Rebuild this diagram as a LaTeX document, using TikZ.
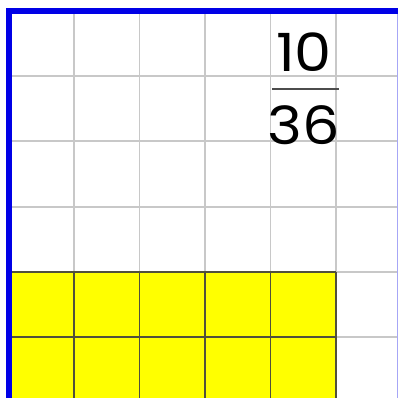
\documentclass[tikz,border=0pt]{standalone}
\usepackage{fontspec}
\setmainfont{Poppins}
\newfontfamily\fracfont[FakeStretch=1.12]{Poppins}
\usepackage{tikz}
\usetikzlibrary{positioning}
\definecolor{gridgray}{RGB}{200,200,200}
\definecolor{cellline}{RGB}{80,80,60}
\definecolor{frameblue}{RGB}{0,0,230}
\definecolor{cellyellow}{RGB}{255,255,0}
\tikzset{
  gridline/.style={draw=gridgray, line width=1.6pt},
  shadeline/.style={draw=cellline, line width=1.5pt},
  frameline/.style={draw=frameblue, line width=5.6pt},
  fracnum/.style={inner sep=0pt, font=\fracfont\fontsize{45}{45}\selectfont, text=black}
}
\begin{document}
\begin{tikzpicture}[x=0.03cm, y=-0.03cm]
\useasboundingbox[fill=white] (0,0) rectangle (398,398);
% shaded part: 5 x 2 cells
\fill[cellyellow] (10,271.8) rectangle (336,398);
% grid
\foreach \k in {1,...,5} {
  \draw[gridline] ({8.5+65.5*\k},11) -- ({8.5+65.5*\k},398);
  \draw[gridline] (9,{11+65.2*\k}) -- (398,{11+65.2*\k});
}
\foreach \k in {1,...,5}
  \draw[shadeline] ({8.5+65.5*\k},271.8) -- ({8.5+65.5*\k},398);
\foreach \y in {271.8,337}
  \draw[shadeline] (10,\y) -- (336,\y);
% frame
\draw[draw=frameblue!35, line width=0.8pt] (397.3,11) -- (397.3,398);
\draw[frameline] (9,398) -- (9,11) -- (398,11);
% fraction
\node[fracnum] (num) at (304,52) {10};
\node[fracnum] (den) at (304,125) {36};
\coordinate (barL) at (272,89);
\coordinate (barR) at (339,89);
\draw[draw=black!70, line width=1.2pt] (barL) -- (barR);
\end{tikzpicture}
\end{document}
